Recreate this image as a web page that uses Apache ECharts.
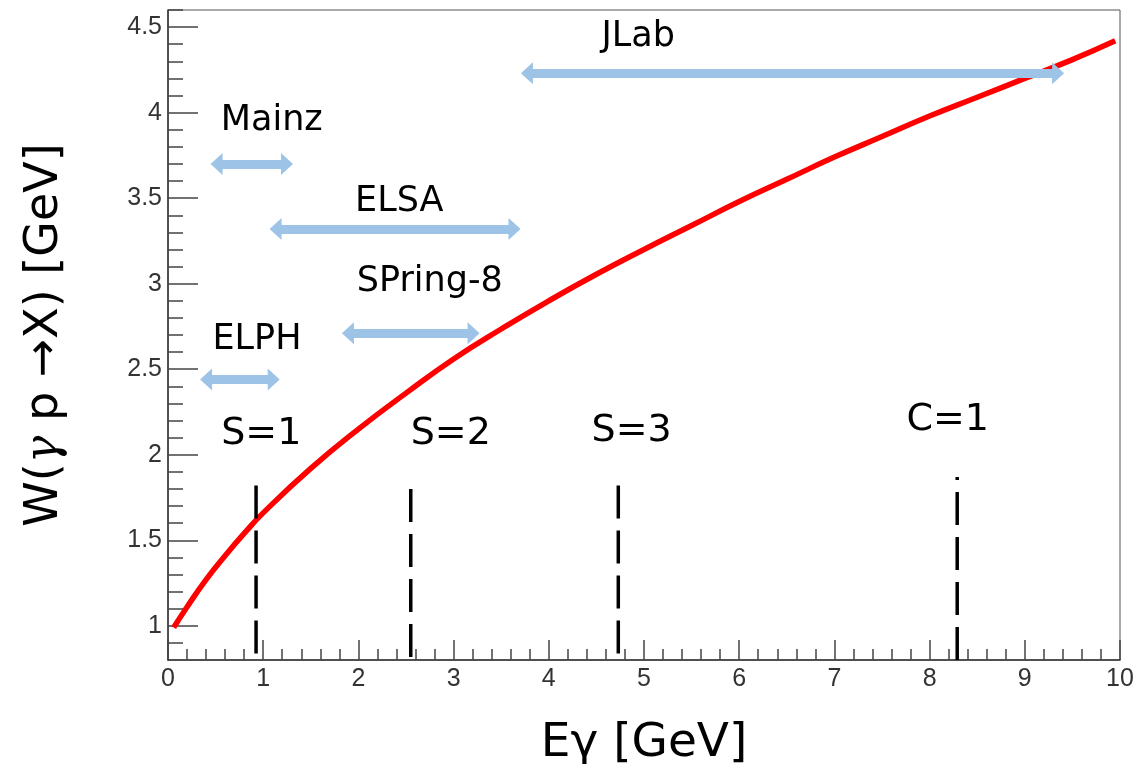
<!DOCTYPE html>
<html>
<head>
<meta charset="utf-8">
<script src="https://cdn.jsdelivr.net/npm/echarts@6/dist/echarts.min.js"></script>
<style>
  html, body { margin: 0; padding: 0; background: #ffffff; }
  #chart { width: 1137px; height: 764px; }
</style>
</head>
<body>
<div id="chart"></div>
<script>
// Invariant mass W of the photon-proton system versus photon beam energy
const energy = [0.06, 0.2, 0.4, 0.6, 0.8, 1.0, 1.5, 2, 2.5, 3, 3.5, 4, 4.5, 5, 5.5, 6, 6.5, 7, 7.5, 8, 8.5, 9, 9.5, 9.95];
const wValue = [0.99, 1.11, 1.27, 1.41, 1.54, 1.66, 1.92, 2.15, 2.36, 2.56, 2.735, 2.90, 3.055, 3.20, 3.34, 3.48, 3.61, 3.74, 3.86, 3.98, 4.09, 4.20, 4.31, 4.42];

// Photon beam facilities: energy coverage drawn as double arrows
const facilities = ['JLab', 'Mainz', 'ELSA', 'SPring-8', 'ELPH'];
const rangeFrom = [3.77, 0.51, 1.13, 1.89, 0.40];
const rangeTo = [9.35, 1.25, 3.64, 3.21, 1.11];
const rangeW = [4.23, 3.70, 3.32, 2.71, 2.44];
const facilityLabelX = [4.94, 1.09, 2.43, 2.75, 0.935];
const facilityLabelY = [4.47, 3.98, 3.51, 3.04, 2.70];

// Production thresholds (strangeness / charm)
const thresholds = ['S=1', 'S=2', 'S=3', 'C=1'];
const thresholdE = [0.925, 2.55, 4.73, 8.29];
const thresholdTop = [1.82, 1.80, 1.82, 1.87];
const thresholdLabelX = [0.98, 2.97, 4.87, 8.19];
const thresholdLabelY = [2.15, 2.15, 2.17, 2.23];

// Axis ticks
const yMajorTicks = [1, 1.5, 2, 2.5, 3, 3.5, 4, 4.5];
const yMinorTicks = [0.9, 1.1, 1.2, 1.3, 1.4, 1.6, 1.7, 1.8, 1.9, 2.1, 2.2, 2.3, 2.4,
  2.6, 2.7, 2.8, 2.9, 3.1, 3.2, 3.3, 3.4, 3.6, 3.7, 3.8, 3.9, 4.1, 4.2, 4.3, 4.4, 4.6];
const yMin = 0.8, yMax = 4.6;

const tickColor = '#444';
const arrowColor = '#9DC3E6';
const labelFont = 'DejaVu Sans';

const series = [];

series.push({
  type: 'line',
  data: energy.map((e, i) => [e, wValue[i]]),
  smooth: true,
  symbol: 'none',
  lineStyle: { color: '#ff0000', width: 5.5 },
  z: 3
});

thresholds.forEach((name, i) => {
  const pts = [[thresholdE[i], thresholdTop[i]], [thresholdE[i], yMin]];
  series.push({
    type: 'line',
    data: name === 'C=1' ? pts.slice().reverse() : pts,
    symbol: 'none',
    silent: true,
    lineStyle: { color: '#000', width: 3.5, type: [33, 12] },
    z: 4
  });
});

series.push({
  type: 'lines',
  coordinateSystem: 'cartesian2d',
  symbol: ['triangle', 'triangle'],
  symbolSize: [[22, 12], [22, 12]],
  lineStyle: { color: arrowColor, width: 9, opacity: 1, curveness: 0 },
  itemStyle: { color: arrowColor },
  data: facilities.map((name, i) => ({
    name,
    coords: [[rangeFrom[i], rangeW[i]], [rangeTo[i], rangeW[i]]]
  })),
  z: 5
});

function textSeries(names, xs, ys, size) {
  return {
    type: 'scatter',
    symbolSize: 1,
    itemStyle: { color: 'rgba(0,0,0,0)', opacity: 1 },
    silent: true,
    data: names.map((n, i) => ({ name: n, value: [xs[i], ys[i]] })),
    label: {
      show: true,
      position: 'inside',
      offset: [0, 5],
      formatter: p => p.name,
      fontFamily: labelFont,
      fontSize: size,
      color: '#000',
      opacity: 1
    },
    z: 6
  };
}
series.push(textSeries(facilities, facilityLabelX, facilityLabelY, 35));
series.push(textSeries(thresholds, thresholdLabelX, thresholdLabelY, 38));

const chart = echarts.init(document.getElementById('chart'), null, { renderer: 'canvas' });
chart.setOption({
  animation: false,
  backgroundColor: '#ffffff',
  grid: {
    left: 168, right: 17, top: 10, bottom: 104,
    outerBoundsMode: 'none',
    containLabel: false,
    show: true, borderColor: '#555', borderWidth: 1
  },
  xAxis: {
    type: 'value',
    min: 0, max: 10, interval: 1,
    name: 'Eγ [GeV]',
    nameLocation: 'middle',
    nameGap: 60,
    nameTextStyle: { fontFamily: labelFont, fontSize: 47, color: '#000' },
    axisLine: { show: true, lineStyle: { color: '#333', width: 1.5 } },
    axisTick: { show: true, inside: true, length: 20, lineStyle: { color: tickColor, width: 1.5 } },
    minorTick: { show: true, splitNumber: 5, length: 11, lineStyle: { color: tickColor, width: 1.5 } },
    splitLine: { show: false },
    axisLabel: { fontFamily: 'Liberation Sans', fontSize: 25, color: '#333', margin: 7 }
  },
  yAxis: [{
    type: 'value',
    min: yMin, max: yMax,
    name: '{a|W(}{g|γ}{a| p →X) [GeV]}',
    nameLocation: 'middle',
    nameGap: 100,
    nameTextStyle: {
      rich: {
        a: { fontFamily: labelFont, fontSize: 46, color: '#000' },
        g: { fontFamily: 'DejaVu Serif', fontStyle: 'italic', fontSize: 46, color: '#000' }
      }
    },
    axisLine: { show: true, lineStyle: { color: '#333', width: 1.5 } },
    axisTick: { show: true, inside: true, length: 30, customValues: yMajorTicks, lineStyle: { color: tickColor, width: 1.5 } },
    splitLine: { show: false },
    axisLabel: { customValues: yMajorTicks, fontFamily: 'Liberation Sans', fontSize: 25, color: '#333', margin: 6 }
  }, {
    type: 'value',
    position: 'left',
    min: yMin, max: yMax,
    axisLine: { show: false },
    axisTick: { show: true, inside: true, length: 15, customValues: yMinorTicks, lineStyle: { color: tickColor, width: 1.5 } },
    axisLabel: { show: false },
    splitLine: { show: false }
  }],
  series
});
</script>
</body>
</html>
